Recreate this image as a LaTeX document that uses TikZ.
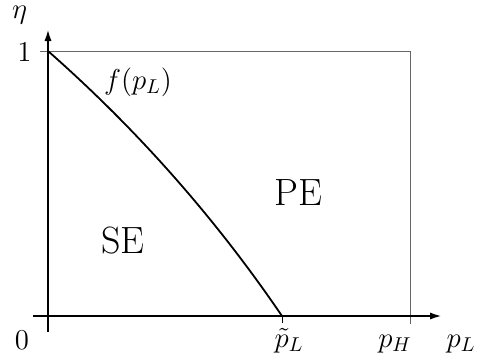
\documentclass[tikz,border=0pt]{standalone}
\usetikzlibrary{arrows.meta}
\begin{document}
\begin{tikzpicture}[x=0.5pt,y=-0.5pt,
  axis/.style={line width=1.1pt,-{Latex[length=6pt,width=3.6pt]}},
  frame/.style={line width=0.5pt,draw=black!60},
  curveline/.style={line width=0.9pt},
  lbl/.style={inner sep=0pt,font=\fontsize{14.4}{17}\selectfont},
  region/.style={inner sep=0pt,font=\fontsize{19}{22}\selectfont}]
\useasboundingbox (0,0) rectangle (477,360);
% coordinates
\coordinate (O) at (48,316);
\coordinate (xs) at (33,316);
\coordinate (xe) at (442,316);
\coordinate (ys) at (48,332);
\coordinate (ye) at (48,29);
\coordinate (tl) at (40,51);
\coordinate (top1) at (48,51);
\coordinate (tr) at (410,51);
\coordinate (br) at (410,324);
\coordinate (pt) at (282,316);
\coordinate (ptb) at (282,323);
% frame
\draw[frame] (tl) -- (tr) -- (br);
% axes
\draw[axis] (xs) -- (xe);
\draw[axis] (ys) -- (ye);
% tick
\draw[line width=0.5pt] (pt) -- (ptb);
% curve
\draw[curveline] (top1) .. controls (137.3,129.7) and (215.3,218) .. (pt);
% labels
\node[lbl] (eta) at (19.5,15) {$\eta$};
\node[lbl] (one) at (24.5,52) {$1$};
\node[lbl] (zero) at (22,340) {$0$};
\node[lbl,anchor=base] (ptl) at (289,347) {$\tilde{p}_L$};
\node[lbl,anchor=base] (ph) at (395,347) {$p_H$};
\node[lbl,anchor=base] (pl) at (461,347) {$p_L$};
\node[lbl] (f) at (138,82) {$f(p_L)$};
\node[region] (se) at (123,241) {SE};
\node[region] (pe) at (298,193) {PE};
\end{tikzpicture}
\end{document}
